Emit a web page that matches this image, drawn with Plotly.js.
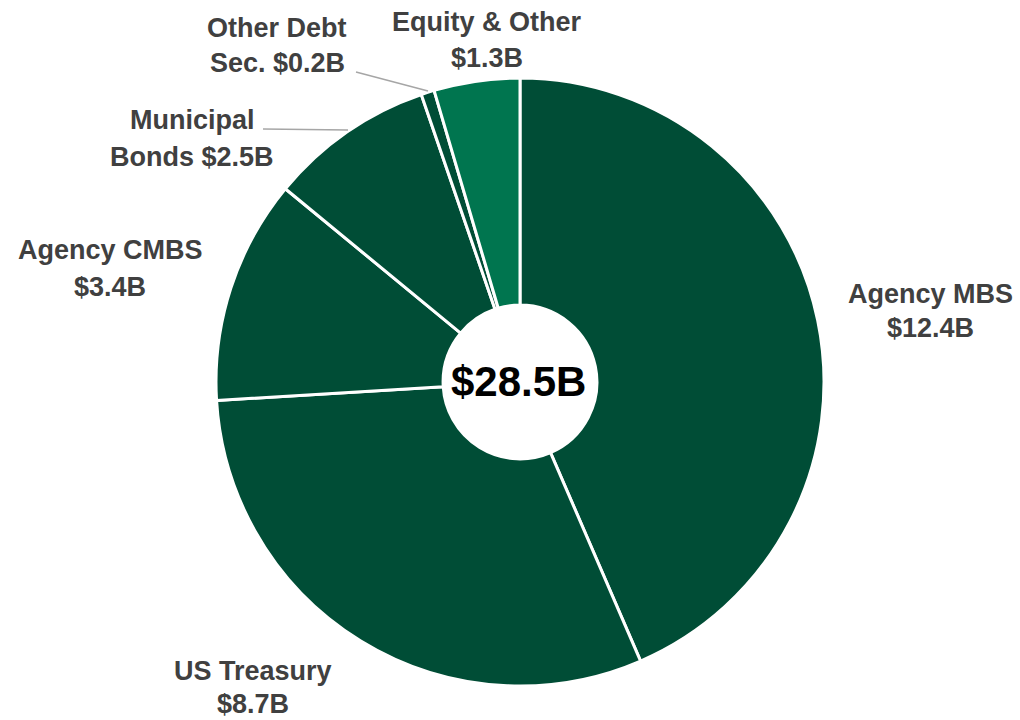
<!DOCTYPE html>
<html>
<head>
<meta charset="utf-8">
<script src="https://cdn.plot.ly/plotly-3.0.1.min.js"></script>
<style>html,body{margin:0;padding:0;background:#fff;}#chart{width:1020px;height:720px;}</style>
</head>
<body>
<div id="chart"></div>
<script>
// ---- data ----
const categories = ['Agency MBS', 'US Treasury', 'Agency CMBS', 'Municipal Bonds', 'Other Debt Sec.', 'Equity & Other'];
const values = [12.4, 8.7, 3.4, 2.5, 0.2, 1.3];
const labelLine1 = ['Agency MBS', 'US Treasury', 'Agency CMBS', 'Municipal', 'Other Debt', 'Equity & Other'];
const labelLine2Prefix = ['', '', '', 'Bonds ', 'Sec. ', ''];

// ---- styles / layout positions (pixels in 1020x720 image) ----
const sliceColors = ['#004D36', '#004D36', '#004D36', '#004D36', '#004D36', '#00754F'];
const labelPos = [
  {x: 930, y1: 294, y2: 328},
  {x: 253, y1: 671, y2: 704},
  {x: 110, y1: 250, y2: 287},
  {x: 192, y1: 120, y2: 157},
  {x: 277, y1: 28,  y2: 63},
  {x: 487, y1: 22,  y2: 58}
];
const leaders = [
  null, null, null,
  {x0: 263, y0: 129, x1: 348, y1: 130},
  {x0: 356, y0: 72, x1: 428, y1: 91},
  null
];

const W = 1020, H = 720;
const px = x => x / W;
const py = y => 1 - y / H;
const fmt = v => '$' + v.toFixed(1) + 'B';
const total = values.reduce((a, b) => a + b, 0);

const labelFont = {family: 'Liberation Sans, Arial, sans-serif', size: 27, color: '#404040'};
const annotations = [];
categories.forEach((c, i) => {
  const p = labelPos[i];
  annotations.push({xref: 'paper', yref: 'paper', x: px(p.x), y: py(p.y1), xanchor: 'center', yanchor: 'middle',
    text: '<b>' + labelLine1[i].replace('&', '&amp;') + '</b>', showarrow: false, font: labelFont});
  annotations.push({xref: 'paper', yref: 'paper', x: px(p.x), y: py(p.y2), xanchor: 'center', yanchor: 'middle',
    text: '<b>' + labelLine2Prefix[i] + fmt(values[i]) + '</b>', showarrow: false, font: labelFont});
});
annotations.push({xref: 'paper', yref: 'paper', x: px(518), y: py(381), xanchor: 'center', yanchor: 'middle',
  text: '<b>' + fmt(total) + '</b>', showarrow: false,
  font: {family: 'Liberation Sans, Arial, sans-serif', size: 42, color: '#000000'}});

const shapes = leaders.filter(l => l).map(l => ({
  type: 'line', xref: 'paper', yref: 'paper',
  x0: px(l.x0), y0: py(l.y0), x1: px(l.x1), y1: py(l.y1),
  line: {color: '#A6A6A6', width: 1.5}
}));

const trace = {
  type: 'pie',
  labels: categories,
  values: values,
  sort: false,
  direction: 'clockwise',
  rotation: 0,
  hole: 0.253,
  textinfo: 'none',
  hoverinfo: 'label+value',
  marker: {colors: sliceColors, line: {color: '#FFFFFF', width: 3}},
  domain: {x: [216 / W, 824 / W], y: [34 / H, 642 / H]},
  showlegend: false
};

const layout = {
  width: W, height: H,
  margin: {l: 0, r: 0, t: 0, b: 0},
  paper_bgcolor: '#FFFFFF',
  plot_bgcolor: '#FFFFFF',
  showlegend: false,
  annotations: annotations,
  shapes: shapes
};

Plotly.newPlot('chart', [trace], layout, {displayModeBar: false, staticPlot: true});
</script>
</body>
</html>
